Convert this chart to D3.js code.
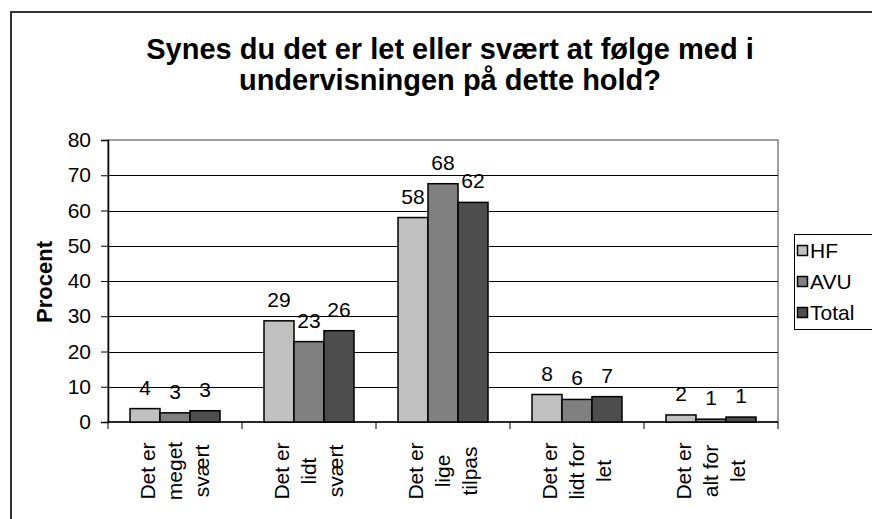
<!DOCTYPE html>
<html>
<head>
<meta charset="utf-8">
<script src="https://cdn.jsdelivr.net/npm/d3@7"></script>
<style>
	body { margin: 0; background: #fff; }
	text { font-family: "Liberation Sans", Arial, sans-serif; }
</style>
</head>
<body>
<div id="chart"></div>
<script>
// data
const categories = [
	["Det er", "meget", "svært"],
	["Det er", "lidt", "svært"],
	["Det er", "lige", "tilpas"],
	["Det er", "lidt for", "let"],
	["Det er", "alt for", "let"]
];
const series = ["HF", "AVU", "Total"];
const hf = [3.8, 28.7, 58.0, 7.8, 2.0];
const avu = [2.6, 22.8, 67.6, 6.4, 0.8];
const total = [3.2, 25.9, 62.3, 7.2, 1.4];
const yTicks = [0, 10, 20, 30, 40, 50, 60, 70, 80];
const colors = ["#c0c0c0", "#808080", "#4d4d4d"];

const W = 872, H = 519;
const plot = { left: 108, top: 140, right: 778, bottom: 422 };

const svg = d3.select("#chart")
	.append("svg")
		.attr("width", W)
		.attr("height", H);

// outer frame
svg.append("rect")
	.attr("x", 11).attr("y", 12)
	.attr("width", 900).attr("height", 600)
	.attr("fill", "#fff")
	.attr("stroke", "#333")
	.attr("stroke-width", 2);

// title
const title = svg.append("text")
	.attr("text-anchor", "middle")
	.attr("font-weight", "bold")
	.attr("font-size", 29)
	.attr("fill", "#000");
title.append("tspan").attr("x", 450).attr("y", 59).text("Synes du det er let eller svært at følge med i");
title.append("tspan").attr("x", 450).attr("y", 90).text("undervisningen på dette hold?");

const x = d3.scaleBand()
	.domain(d3.range(categories.length))
	.range([plot.left, plot.right])
	.paddingInner(0)
	.paddingOuter(0);

const xSub = d3.scaleBand()
	.domain(series)
	.range([0, x.bandwidth()])
	.paddingInner(0)
	.paddingOuter(22 / 30);

const y = d3.scaleLinear()
	.domain([0, 80])
	.range([plot.bottom, plot.top]);

// plot area border (grey)
svg.append("rect")
	.attr("x", plot.left).attr("y", plot.top)
	.attr("width", plot.right - plot.left)
	.attr("height", plot.bottom - plot.top)
	.attr("fill", "#fff")
	.attr("stroke", "#808080")
	.attr("stroke-width", 1.5);

// gridlines
svg.append("g")
	.selectAll("line")
	.data(yTicks.filter(d => d > 0 && d < 80))
	.join("line")
		.attr("x1", plot.left).attr("x2", plot.right)
		.attr("y1", d => Math.round(y(d)) + 0.5)
		.attr("y2", d => Math.round(y(d)) + 0.5)
		.attr("stroke", "#000");

// y axis
const yAxis = svg.append("g")
	.attr("transform", `translate(${plot.left},0)`)
	.call(d3.axisLeft(y).tickValues(yTicks).tickSize(7).tickPadding(10));
yAxis.select(".domain").attr("stroke", "#000").attr("stroke-width", 1.5);
yAxis.selectAll(".tick line").attr("stroke", "#000");
yAxis.selectAll(".tick text")
	.attr("font-size", 21)
	.attr("font-family", "Liberation Sans, Arial, sans-serif")
	.attr("fill", "#000");

svg.append("text")
	.attr("transform", `translate(52,282) rotate(-90)`)
	.attr("text-anchor", "middle")
	.attr("font-weight", "bold")
	.attr("font-size", 22)
	.text("Procent");

// x axis
const xAxis = svg.append("g")
	.attr("transform", `translate(0,${plot.bottom})`);
xAxis.append("line")
	.attr("x1", plot.left).attr("x2", plot.right)
	.attr("y1", 0).attr("y2", 0)
	.attr("stroke", "#000").attr("stroke-width", 1.5);
xAxis.selectAll(".tk")
	.data(d3.range(categories.length + 1))
	.join("line")
		.attr("class", "tk")
		.attr("x1", d => d < categories.length ? x(d) : x(d - 1) + x.bandwidth())
		.attr("x2", d => d < categories.length ? x(d) : x(d - 1) + x.bandwidth())
		.attr("y1", 0).attr("y2", 7)
		.attr("stroke", "#000");

// category labels, rotated
categories.forEach((lines, i) => {
	const cx = x(i) + x.bandwidth() / 2;
	const t = svg.append("text")
		.attr("transform", `translate(${cx},471) rotate(-90)`)
		.attr("text-anchor", "middle")
		.attr("font-size", 21);
	lines.forEach((ln, k) => {
		t.append("tspan")
			.attr("x", 0)
			.attr("y", (k - 1) * 27)
			.attr("dy", "0.35em")
			.text(ln);
	});
});

// bars
const seriesData = [hf, avu, total];
seriesData.forEach((vals, s) => {
	const g = svg.append("g");
	g.selectAll("rect")
		.data(vals)
		.join("rect")
			.attr("x", (d, i) => x(i) + xSub(series[s]))
			.attr("y", d => y(d))
			.attr("width", xSub.bandwidth())
			.attr("height", d => y(0) - y(d))
			.attr("fill", colors[s])
			.attr("stroke", "#000")
			.attr("stroke-width", 1.5);
	g.selectAll("text")
		.data(vals)
		.join("text")
			.attr("x", (d, i) => x(i) + xSub(series[s]) + xSub.bandwidth() / 2)
			.attr("y", d => y(d) - 14)
			.attr("text-anchor", "middle")
			.attr("font-size", 21)
			.text(d => Math.round(d));
});

// legend
const legend = svg.append("g");
legend.append("rect")
	.attr("x", 794.5).attr("y", 234.5)
	.attr("width", 90).attr("height", 95)
	.attr("fill", "#fff")
	.attr("stroke", "#000");
series.forEach((name, s) => {
	const ly = 251 + s * 31;
	legend.append("rect")
		.attr("x", 797.5).attr("y", ly - 5.5)
		.attr("width", 10).attr("height", 10)
		.attr("fill", colors[s])
		.attr("stroke", "#000")
		.attr("stroke-width", 1.5);
	legend.append("text")
		.attr("x", 810)
		.attr("y", ly)
		.attr("dy", "0.35em")
		.attr("font-size", 21)
		.text(name);
});
</script>
</body>
</html>
